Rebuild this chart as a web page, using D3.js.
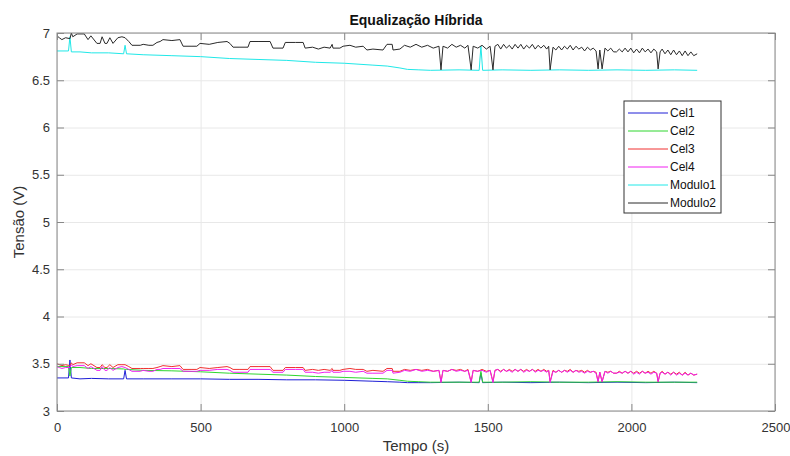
<!DOCTYPE html>
<html>
<head>
<meta charset="utf-8" />
<title>Equalização Híbrida</title>
<script src="https://d3js.org/d3.v7.min.js"></script>
<style>
  body { margin: 0; background: #fff; }
  text { font-family: "Liberation Sans", Arial, Helvetica, sans-serif; fill: #333; }
  .grid line { stroke: #e8e8e8; }
  .grid path { display: none; }
  .eixo path { display: none; }
  .eixo line { stroke: #888; }
  .linha { fill: none; stroke-width: 1px; }
</style>
</head>
<body>
<script>
// tempos (s) das curvas de Cel3, Cel4 e Modulo2
var tAlto = [0,8,17,30,45,50,55,70,95,108,118,139,150,157,167,174,184,195,212,226,237,250,261,290,300,320,334,348,359,369,
  400,428,439,470,487,498,530,560,592,602,613,637,665,672,700,742,752,787,795,830,857,864,890,910,930,951,958,961,985,996,
  1020,1040,1066,1079,1100,1135,1149,1167,1170,1194,1210,1230,1250,1270,1290,1310,1330,1337,1344,1360,1375,1390,1405,1420,1431,1442,1449,1465,1480,1495,
  1508,1518,1525,1535,1545,1555,1565,1575,1585,1595,1605,1615,1625,1635,1645,1655,1665,1675,1685,1695,1705,1712,1717,1727,1737,1747,1757,1767,1777,1787,
  1797,1807,1817,1827,1837,1847,1857,1867,1877,1884,1890,1898,1908,1918,1928,1938,1948,1958,1968,1978,1988,1998,2008,2018,2028,2038,2048,2058,2068,2078,
  2088,2093,2100,2107,2117,2127,2137,2147,2157,2167,2177,2187,2197,2207,2217,2229];

var modulo2 = [6.97,6.95,6.93,6.95,6.94,7.00,6.96,6.99,6.99,6.93,6.97,6.89,6.89,6.96,6.89,6.89,6.95,6.89,6.95,6.96,6.95,6.91,6.87,6.87,6.88,6.87,6.87,6.90,6.91,6.93,
  6.92,6.93,6.86,6.86,6.86,6.89,6.88,6.90,6.91,6.89,6.85,6.85,6.85,6.91,6.91,6.91,6.84,6.84,6.90,6.90,6.90,6.84,6.85,6.83,6.85,6.84,6.88,6.84,6.84,6.86,
  6.87,6.85,6.86,6.82,6.83,6.82,6.88,6.88,6.82,6.83,6.87,6.85,6.88,6.85,6.87,6.84,6.86,6.61,6.86,6.84,6.88,6.85,6.87,6.84,6.87,6.61,6.86,6.84,6.87,6.83,
  6.86,6.61,6.86,6.88,6.83,6.88,6.84,6.87,6.83,6.88,6.84,6.88,6.83,6.87,6.84,6.88,6.83,6.87,6.84,6.87,6.83,6.86,6.61,6.85,6.82,6.86,6.82,6.86,6.83,6.87,
  6.82,6.86,6.83,6.85,6.81,6.85,6.82,6.84,6.81,6.62,6.82,6.62,6.84,6.81,6.84,6.80,6.80,6.83,6.80,6.84,6.80,6.84,6.79,6.83,6.79,6.84,6.80,6.83,6.79,6.83,
  6.80,6.62,6.80,6.83,6.78,6.82,6.77,6.82,6.77,6.81,6.76,6.81,6.76,6.80,6.76,6.78];

var cel3 = [3.50,3.49,3.48,3.49,3.48,3.51,3.49,3.51,3.51,3.48,3.50,3.46,3.46,3.49,3.46,3.46,3.49,3.46,3.49,3.49,3.49,3.47,3.45,3.45,3.45,3.45,3.45,3.46,3.47,3.48,
  3.47,3.48,3.44,3.44,3.44,3.46,3.45,3.46,3.47,3.46,3.44,3.44,3.44,3.47,3.47,3.47,3.43,3.43,3.46,3.46,3.46,3.43,3.44,3.43,3.44,3.43,3.45,3.43,3.43,3.44,
  3.45,3.44,3.44,3.42,3.43,3.42,3.45,3.45,3.42,3.42,3.44,3.43,3.44,3.43,3.44,3.42,3.43,3.31,3.43,3.42,3.44,3.43,3.44,3.42,3.44,3.31,3.43,3.42,3.44,3.42,
  3.43,3.31,3.43,3.44,3.42,3.44,3.42,3.44,3.42,3.44,3.42,3.44,3.42,3.44,3.42,3.44,3.42,3.44,3.42,3.44,3.42,3.43,3.31,3.43,3.41,3.43,3.41,3.43,3.42,3.44,
  3.41,3.43,3.42,3.43,3.41,3.43,3.41,3.42,3.41,3.31,3.41,3.31,3.42,3.41,3.42,3.40,3.40,3.42,3.40,3.42,3.40,3.42,3.40,3.42,3.40,3.42,3.40,3.42,3.40,3.42,
  3.40,3.31,3.40,3.42,3.39,3.41,3.39,3.41,3.39,3.41,3.38,3.41,3.38,3.40,3.38,3.39];

var cel4 = [3.47,3.46,3.45,3.46,3.46,3.49,3.47,3.48,3.48,3.45,3.47,3.43,3.43,3.47,3.43,3.43,3.46,3.43,3.46,3.47,3.46,3.44,3.42,3.42,3.43,3.42,3.42,3.44,3.44,3.45,
  3.45,3.45,3.42,3.42,3.42,3.43,3.43,3.44,3.44,3.43,3.41,3.41,3.41,3.44,3.44,3.44,3.41,3.41,3.44,3.44,3.44,3.41,3.41,3.40,3.41,3.41,3.43,3.41,3.41,3.42,
  3.42,3.41,3.42,3.40,3.40,3.40,3.43,3.43,3.40,3.41,3.43,3.42,3.44,3.42,3.43,3.42,3.43,3.30,3.43,3.42,3.44,3.42,3.43,3.42,3.43,3.30,3.43,3.42,3.43,3.41,
  3.43,3.30,3.43,3.44,3.41,3.44,3.42,3.43,3.41,3.44,3.42,3.44,3.41,3.43,3.42,3.44,3.41,3.43,3.42,3.43,3.41,3.43,3.30,3.42,3.41,3.43,3.41,3.43,3.41,3.43,
  3.41,3.43,3.41,3.42,3.40,3.42,3.41,3.42,3.40,3.31,3.41,3.31,3.42,3.40,3.42,3.40,3.40,3.41,3.40,3.42,3.40,3.42,3.39,3.41,3.39,3.42,3.40,3.41,3.39,3.41,
  3.40,3.31,3.40,3.41,3.39,3.41,3.38,3.41,3.38,3.40,3.38,3.40,3.38,3.40,3.38,3.39];

// tempos (s) das curvas de Cel1, Cel2 e Modulo1
var tBaixo = [0,40,45,50,80,120,180,232,237,242,300,400,500,600,700,800,900,1000,1100,1150,
  1194,1220,1260,1300,1400,1470,1476,1482,1550,1650,1750,1850,1950,2050,2150,2229];

var modulo1 = [6.81,6.81,6.96,6.80,6.80,6.79,6.79,6.78,6.87,6.78,6.77,6.76,6.75,6.73,6.72,6.71,6.69,6.68,6.66,6.65,
  6.63,6.615,6.61,6.605,6.61,6.605,6.86,6.605,6.61,6.605,6.61,6.605,6.61,6.605,6.61,6.605];

var cel1 = [3.35,3.35,3.54,3.35,3.34,3.345,3.34,3.34,3.43,3.34,3.34,3.34,3.34,3.335,3.335,3.33,3.33,3.325,3.315,3.31,
  3.305,3.30,3.30,3.30,3.305,3.30,3.40,3.30,3.305,3.30,3.305,3.30,3.305,3.30,3.305,3.30];

var cel2 = [3.47,3.47,3.37,3.46,3.46,3.45,3.45,3.445,3.44,3.44,3.43,3.425,3.415,3.40,3.39,3.38,3.365,3.355,3.345,3.34,
  3.325,3.315,3.31,3.305,3.305,3.305,3.42,3.305,3.305,3.31,3.305,3.305,3.31,3.305,3.305,3.305];

var xTicks = [0, 500, 1000, 1500, 2000, 2500];
var yTicks = [3, 3.5, 4, 4.5, 5, 5.5, 6, 6.5, 7];

var series = [
  {nome: "Cel1", t: tBaixo, v: cel1, cor: "#1f1fd6"},
  {nome: "Cel2", t: tBaixo, v: cel2, cor: "#2fd62f"},
  {nome: "Cel3", t: tAlto, v: cel3, cor: "#f03030"},
  {nome: "Cel4", t: tAlto, v: cel4, cor: "#f020f0"},
  {nome: "Modulo1", t: tBaixo, v: modulo1, cor: "#20e8e8"},
  {nome: "Modulo2", t: tAlto, v: modulo2, cor: "#2a2a2a"}
];

var margin = {top: 33, right: 15, bottom: 45, left: 57},
    width = 790 - margin.left - margin.right,
    height = 456 - margin.top - margin.bottom;

var x = d3.scaleLinear().domain([0, 2500]).range([0, width]);
var y = d3.scaleLinear().domain([3, 7]).range([height, 0]);

var svg = d3.select("body").append("svg")
    .attr("width", 790)
    .attr("height", 456);

var g = svg.append("g")
    .attr("transform", "translate(" + margin.left + "," + margin.top + ")");

// grade
g.append("g").attr("class", "grid")
    .attr("transform", "translate(0," + height + ")")
    .call(d3.axisBottom(x).tickValues(xTicks).tickSize(-height).tickFormat(""));
g.append("g").attr("class", "grid")
    .call(d3.axisLeft(y).tickValues(yTicks).tickSize(-width).tickFormat(""));

g.append("clipPath").attr("id", "area")
  .append("rect").attr("width", width).attr("height", height);

// curvas
var linha = d3.line()
    .x(function(d) { return x(d[0]); })
    .y(function(d) { return y(d[1]); });

series.forEach(function(s) {
  var pts = s.t.map(function(t, i) { return [t, s.v[i]]; });
  g.append("path")
    .datum(pts)
    .attr("class", "linha")
    .attr("clip-path", "url(#area)")
    .attr("stroke", s.cor)
    .attr("d", linha);
});

// eixos com marcas para dentro
var ex = g.append("g").attr("class", "eixo")
    .attr("transform", "translate(0," + height + ")")
    .call(d3.axisBottom(x).tickValues(xTicks).tickSize(-7).tickPadding(12).tickFormat(function(d) { return d; }));
ex.selectAll("text").attr("font-size", 13);
// ultimo rotulo encostado na borda, como no original
ex.selectAll("text").filter(function(d) { return d === 2500; }).attr("text-anchor", "end").attr("x", 15);

var ey = g.append("g").attr("class", "eixo")
    .call(d3.axisLeft(y).tickValues(yTicks).tickSize(-7).tickPadding(7).tickFormat(function(d) { return d; }));
ey.selectAll("text").attr("font-size", 13);

g.append("g").attr("class", "eixo")
    .call(d3.axisTop(x).tickValues(xTicks).tickSize(-7).tickFormat(""));
g.append("g").attr("class", "eixo")
    .attr("transform", "translate(" + width + ",0)")
    .call(d3.axisRight(y).tickValues(yTicks).tickSize(-7).tickFormat(""));

g.append("rect")
    .attr("width", width).attr("height", height)
    .attr("fill", "none").attr("stroke", "#888");

// textos
svg.append("text")
    .attr("x", margin.left + width / 2).attr("y", 25)
    .attr("text-anchor", "middle")
    .attr("font-size", 14).attr("font-weight", "bold")
    .style("fill", "#111")
    .text("Equalização Híbrida");

svg.append("text")
    .attr("x", margin.left + width / 2).attr("y", 451)
    .attr("text-anchor", "middle")
    .attr("font-size", 15)
    .text("Tempo (s)");

svg.append("text")
    .attr("transform", "translate(24," + (margin.top + height / 2) + ") rotate(-90)")
    .attr("text-anchor", "middle")
    .attr("font-size", 15)
    .text("Tensão (V)");

// legenda
var leg = svg.append("g").attr("transform", "translate(624,101)");
leg.append("rect")
    .attr("width", 97).attr("height", 112)
    .attr("fill", "#fff").attr("stroke", "#333");
series.forEach(function(s, i) {
  var yy = 12 + i * 18;
  leg.append("line")
    .attr("x1", 4).attr("x2", 44).attr("y1", yy).attr("y2", yy)
    .attr("stroke", s.cor).attr("stroke-width", 1);
  leg.append("text")
    .attr("x", 46).attr("y", yy).attr("dy", "0.35em")
    .attr("font-size", 12).style("fill", "#111")
    .text(s.nome);
});
</script>
</body>
</html>
